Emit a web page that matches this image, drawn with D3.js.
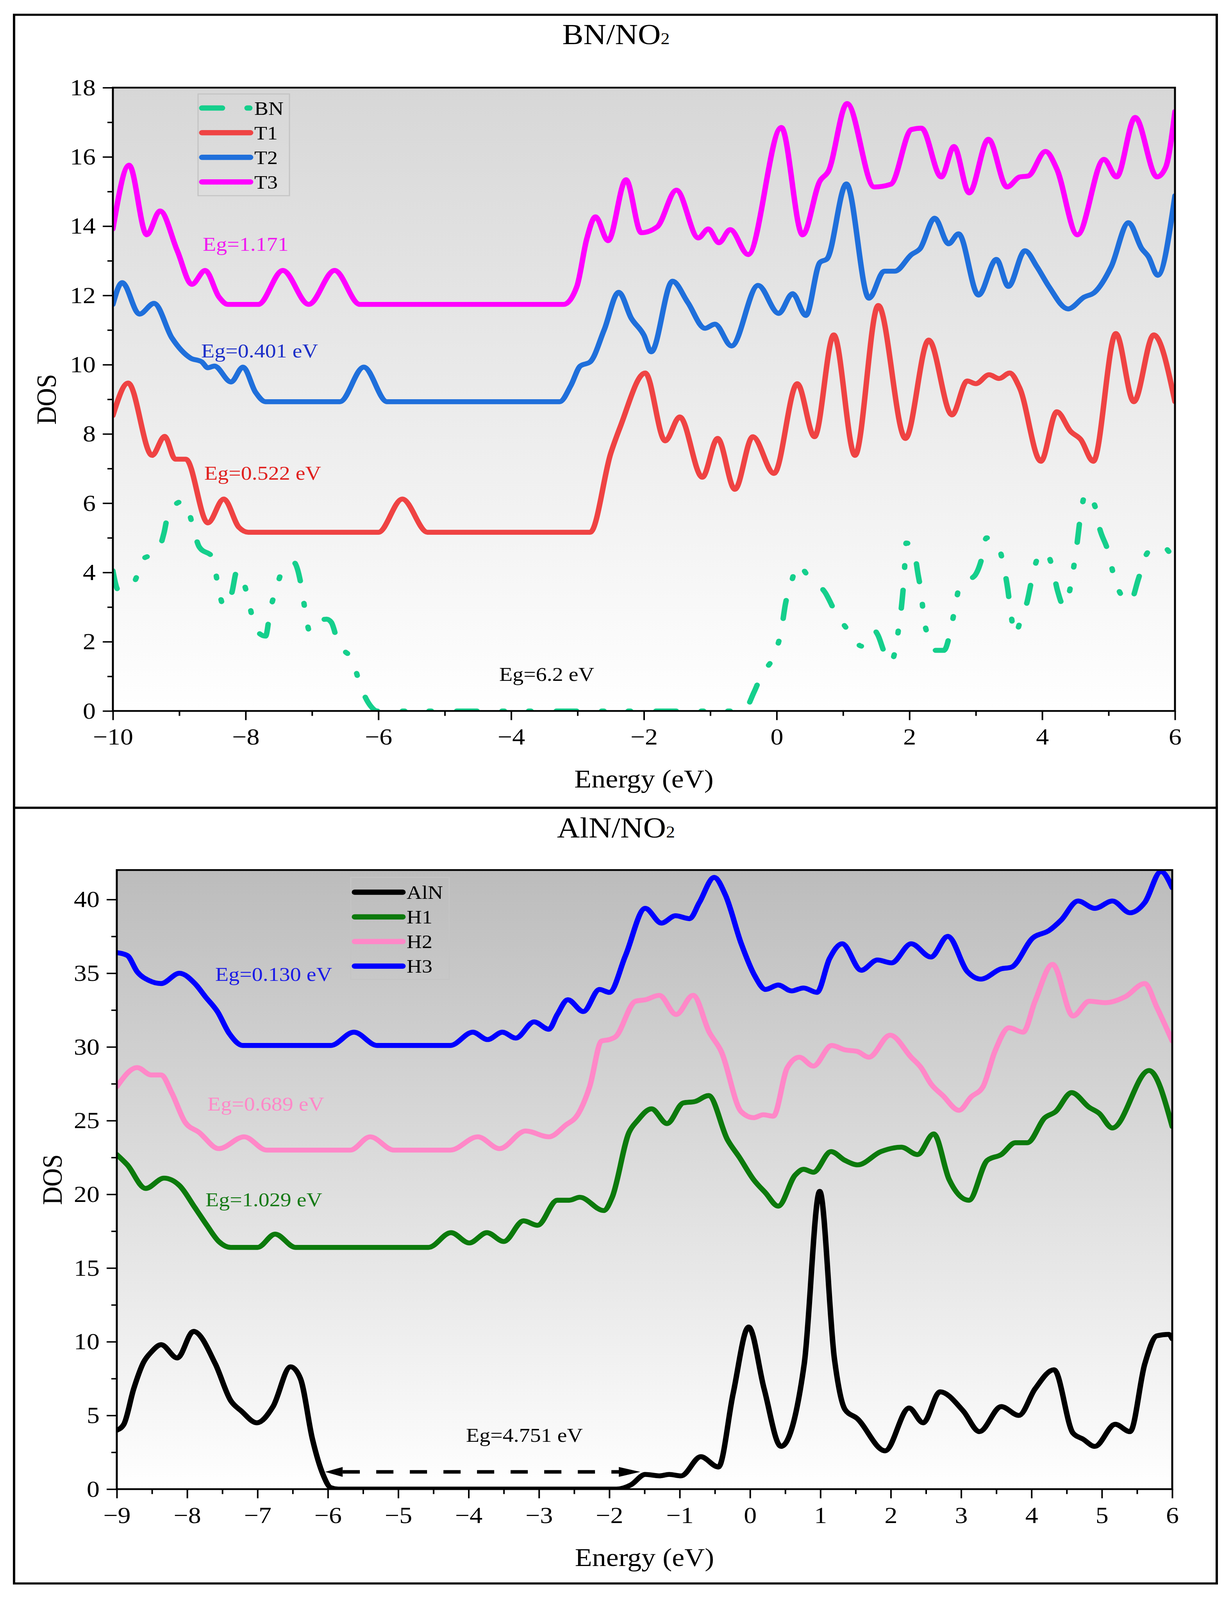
<!DOCTYPE html>
<html>
<head>
<meta charset="utf-8">
<script src="https://cdn.jsdelivr.net/npm/d3@7"></script>
<style>
  html, body { margin: 0; padding: 0; background: #fff; overflow: hidden; }
  svg { display: block; }
  text { font-family: "Liberation Serif", "Times New Roman", serif; }
</style>
</head>
<body>
<svg id="chart"></svg>
<script>
// ---- top panel: BN/NO2 (energy eV, DOS) ----
const bnDOS = [[-10,4.05],[-9.92,3.5],[-9.8,3.5],[-9.67,3.75],[-9.54,4.4],[-9.34,4.55],[-9.23,5.14],[-9.16,5.74],[-8.95,6.05],[-8.88,5.9],[-8.8,5.37],[-8.7,4.74],[-8.49,4.42],[-8.43,3.76],[-8.32,3.0],[-8.21,3.4],[-8.13,4.05],[-8.01,3.59],[-7.93,2.96],[-7.86,2.39],[-7.7,2.16],[-7.63,2.9],[-7.53,3.59],[-7.42,4.17],[-7.28,4.3],[-7.15,3.48],[-7.1,2.84],[-7.03,2.27],[-6.89,2.6],[-6.78,2.65],[-6.71,2.56],[-6.61,1.98],[-6.38,1.41],[-6.28,0.78],[-6.12,0.15],[-6.02,0],[-0.5,0],[-0.34,0.55],[-0.21,1.12],[-0.09,1.41],[-0.01,1.75],[0.07,2.33],[0.13,3.07],[0.22,3.71],[0.32,4.22],[0.5,3.82],[0.73,3.42],[0.88,2.87],[1.1,2.27],[1.28,1.87],[1.47,2.33],[1.52,2.21],[1.62,1.7],[1.71,1.39],[1.78,1.7],[1.83,2.29],[1.88,3.02],[1.92,3.88],[1.95,4.85],[2.06,4.68],[2.13,3.94],[2.18,3.36],[2.21,2.79],[2.29,2.1],[2.38,1.75],[2.52,1.75],[2.62,2.33],[2.69,3.02],[2.77,3.71],[2.97,3.88],[3.08,4.34],[3.16,5.0],[3.33,4.8],[3.42,4.17],[3.48,3.53],[3.52,2.94],[3.59,2.21],[3.69,2.73],[3.77,3.13],[3.84,3.76],[3.94,4.45],[4.05,4.59],[4.15,4.17],[4.23,3.48],[4.33,3.02],[4.42,3.53],[4.48,4.22],[4.53,4.91],[4.57,5.54],[4.66,6.29],[4.79,5.94],[4.86,5.31],[4.99,4.62],[5.09,3.82],[5.17,3.42],[5.32,3.13],[5.45,3.82],[5.55,4.45],[5.7,4.74],[5.83,4.74],[5.96,4.51],[6,4.5]];
const t1DOS = [[-10,8.53],[-9.77,9.47],[-9.41,7.38],[-9.22,7.93],[-9.06,7.27],[-8.9,7.27],[-8.57,5.43],[-8.33,6.12],[-8.1,5.3],[-7.96,5.16],[-6.0,5.16],[-5.64,6.12],[-5.26,5.16],[-2.81,5.16],[-2.5,7.44],[-2.35,8.24],[-1.98,9.76],[-1.68,7.8],[-1.46,8.49],[-1.12,6.75],[-0.89,7.87],[-0.63,6.4],[-0.36,7.92],[-0.04,6.86],[0.31,9.45],[0.57,7.92],[0.86,10.86],[1.18,7.38],[1.53,11.71],[1.94,7.87],[2.29,10.71],[2.64,8.55],[2.87,9.53],[3.0,9.45],[3.2,9.71],[3.35,9.6],[3.51,9.76],[3.66,9.33],[3.98,7.21],[4.22,8.64],[4.43,8.07],[4.58,7.84],[4.77,7.21],[5.11,10.9],[5.38,8.93],[5.68,10.86],[6,8.93]];
const t2DOS = [[-10,11.74],[-9.86,12.37],[-9.6,11.46],[-9.38,11.77],[-9.11,10.77],[-8.83,10.19],[-8.66,10.08],[-8.57,9.91],[-8.47,9.96],[-8.22,9.5],[-8.04,9.93],[-7.85,9.2],[-7.7,8.93],[-6.58,8.93],[-6.22,9.93],[-5.87,8.93],[-3.27,8.93],[-3.1,9.4],[-2.96,9.96],[-2.81,10.08],[-2.6,11.0],[-2.38,12.09],[-2.19,11.34],[-2.0,10.85],[-1.89,10.37],[-1.57,12.41],[-1.34,11.8],[-1.08,11.05],[-0.93,11.17],[-0.68,10.54],[-0.28,12.29],[0.03,11.48],[0.24,12.05],[0.44,11.42],[0.65,12.95],[0.76,13.06],[1.05,15.22],[1.39,11.92],[1.62,12.7],[1.78,12.7],[2.03,13.18],[2.16,13.35],[2.38,14.23],[2.59,13.49],[2.74,13.78],[3.04,12.01],[3.31,13.04],[3.49,12.26],[3.74,13.29],[3.92,12.83],[4.1,12.26],[4.39,11.61],[4.63,11.95],[4.79,12.09],[5.04,12.83],[5.3,14.1],[5.5,13.35],[5.6,13.12],[5.74,12.58],[6,14.88]];
const t3DOS = [[-10,13.92],[-9.755,15.76],[-9.49,13.75],[-9.29,14.44],[-9.03,13.29],[-8.81,12.32],[-8.61,12.72],[-8.4,11.95],[-8.27,11.74],[-7.81,11.74],[-7.44,12.72],[-7.05,11.74],[-6.66,12.72],[-6.28,11.74],[-3.21,11.74],[-3.01,12.26],[-2.86,13.64],[-2.73,14.27],[-2.54,13.58],[-2.27,15.34],[-2.04,13.81],[-1.8,13.98],[-1.51,15.04],[-1.18,13.66],[-1.03,13.92],[-0.87,13.52],[-0.7,13.9],[-0.43,13.18],[0.07,16.85],[0.39,13.75],[0.65,15.3],[0.78,15.59],[1.06,17.54],[1.47,15.13],[1.72,15.21],[2.03,16.79],[2.18,16.83],[2.48,15.42],[2.67,16.3],[2.9,14.96],[3.19,16.51],[3.47,15.13],[3.66,15.42],[3.79,15.45],[4.05,16.16],[4.22,15.65],[4.53,13.75],[4.93,15.93],[5.12,15.42],[5.4,17.14],[5.73,15.42],[5.86,15.7],[6,17.31]];

// ---- bottom panel: AlN/NO2 ----
const alnDOS = [[-9,4.0],[-8.9,4.4],[-8.76,6.8],[-8.62,8.6],[-8.51,9.3],[-8.37,9.8],[-8.14,8.9],[-7.91,10.7],[-7.6,8.5],[-7.38,6.0],[-7.23,5.3],[-7.01,4.5],[-6.78,5.6],[-6.53,8.3],[-6.39,7.5],[-6.22,3.4],[-6.07,1.0],[-5.96,0.1],[-5.85,0],[-1.9,0],[-1.69,0.3],[-1.49,1.0],[-1.29,0.9],[-1.15,1.0],[-0.98,0.9],[-0.7,2.2],[-0.45,1.5],[-0.24,6.5],[-0.02,11.0],[0.2,6.8],[0.44,2.9],[0.77,8.5],[0.99,20.2],[1.2,8.8],[1.35,5.4],[1.52,4.8],[1.92,2.6],[2.26,5.5],[2.46,4.5],[2.7,6.6],[3.03,5.3],[3.26,3.9],[3.57,5.6],[3.82,5.0],[4.05,6.8],[4.32,8.1],[4.59,3.8],[4.73,3.4],[4.9,2.9],[5.19,4.4],[5.4,3.9],[5.61,8.5],[5.78,10.4],[5.95,10.5],[6,10.2]];
const h1DOS = [[-9,22.7],[-8.85,22.0],[-8.59,20.4],[-8.33,21.1],[-8.11,20.6],[-7.89,19.1],[-7.72,17.9],[-7.55,16.8],[-7.38,16.4],[-7.0,16.4],[-6.75,17.3],[-6.46,16.4],[-4.57,16.4],[-4.25,17.4],[-3.99,16.7],[-3.74,17.4],[-3.5,16.8],[-3.22,18.2],[-3.02,17.9],[-2.74,19.6],[-2.57,19.6],[-2.42,19.8],[-2.08,18.9],[-1.96,19.8],[-1.72,24.2],[-1.6,25.0],[-1.4,25.8],[-1.18,24.8],[-0.95,26.2],[-0.78,26.3],[-0.59,26.7],[-0.32,23.7],[-0.15,22.5],[0.05,21.0],[0.22,20.1],[0.4,19.2],[0.64,21.3],[0.76,21.7],[0.9,21.5],[1.15,22.9],[1.35,22.3],[1.53,22.0],[1.86,22.9],[2.15,23.2],[2.38,22.7],[2.61,24.1],[2.83,21.0],[3.11,19.6],[3.37,22.3],[3.57,22.7],[3.77,23.5],[3.94,23.5],[4.19,25.2],[4.34,25.6],[4.57,26.9],[4.82,25.9],[4.96,25.5],[5.15,24.5],[5.67,28.4],[6,24.6]];
const h2DOS = [[-9,27.3],[-8.71,28.6],[-8.51,28.1],[-8.37,28.1],[-8.22,26.9],[-8.03,24.9],[-7.83,24.2],[-7.55,23.1],[-7.19,23.9],[-6.87,23.0],[-5.68,23.0],[-5.4,23.9],[-5.06,23.0],[-4.26,23.0],[-3.87,23.9],[-3.56,23.1],[-3.19,24.3],[-2.86,23.9],[-2.62,24.7],[-2.45,25.4],[-2.28,27.3],[-2.11,30.4],[-2.0,30.5],[-1.91,30.7],[-1.63,33.1],[-1.49,33.2],[-1.29,33.5],[-1.05,32.2],[-0.81,33.5],[-0.58,31.0],[-0.41,29.7],[-0.125,25.6],[0.05,25.2],[0.19,25.4],[0.33,25.3],[0.53,28.6],[0.7,29.3],[0.9,28.7],[1.16,30.1],[1.35,29.8],[1.52,29.7],[1.69,29.3],[1.99,30.8],[2.29,29.3],[2.43,28.6],[2.57,27.5],[2.74,26.7],[2.97,25.7],[3.14,26.6],[3.31,27.3],[3.48,29.7],[3.68,31.3],[3.88,31.0],[4.05,33.1],[4.3,35.6],[4.59,32.1],[4.82,33.1],[5.05,33.0],[5.33,33.4],[5.61,34.3],[5.78,32.7],[6,30.4]];
const h3DOS = [[-9,36.4],[-8.85,36.2],[-8.71,35.1],[-8.54,34.5],[-8.37,34.3],[-8.11,35.0],[-7.89,34.3],[-7.74,33.4],[-7.57,32.4],[-7.4,30.9],[-7.21,30.1],[-5.96,30.1],[-5.63,31.0],[-5.3,30.1],[-4.26,30.1],[-3.94,31.0],[-3.73,30.5],[-3.52,31.0],[-3.33,30.6],[-3.07,31.7],[-2.86,31.2],[-2.74,32.2],[-2.59,33.2],[-2.37,32.4],[-2.14,33.9],[-2.0,33.7],[-1.77,36.2],[-1.49,39.4],[-1.26,38.4],[-1.06,38.9],[-0.86,38.7],[-0.72,39.8],[-0.51,41.5],[-0.35,40.3],[-0.125,37.0],[0.07,34.8],[0.22,33.9],[0.4,34.2],[0.59,33.8],[0.76,34.0],[0.95,33.7],[1.13,36.0],[1.31,37.0],[1.58,35.2],[1.81,35.9],[2.01,35.7],[2.29,37.0],[2.57,36.1],[2.81,37.5],[3.09,35.1],[3.28,34.6],[3.57,35.3],[3.71,35.4],[4.02,37.4],[4.25,37.9],[4.42,38.6],[4.66,39.9],[4.9,39.4],[5.15,39.9],[5.4,39.1],[5.61,39.8],[5.84,41.9],[6,40.8]];

// gap arrow for AlN (energy from, energy to, DOS level)
const alnGapArrow = [-6.04, -1.56, 1.17];

// tick values
const topXTicks = d3.range(-10, 6.1, 2);
const topXMinor = d3.range(-9, 6, 2);
const topYTicks = d3.range(0, 18.1, 2);
const topYMinor = d3.range(1, 18, 2);
const botXTicks = d3.range(-9, 6.1, 1);
const botXMinor = d3.range(-8.5, 6, 1);
const botYTicks = d3.range(0, 40.1, 5);
const botYMinor = d3.range(2.5, 42, 5);

// page is laid out on a 3154 x 4546 canvas, fitted to whatever the window gives
const W = 3154, H = 4546;
const svg = d3.select('#chart')
  .attr('viewBox', `0 0 ${W} ${H}`)
  .attr('preserveAspectRatio', 'none')
  .attr('width', window.innerWidth || W)
  .attr('height', window.innerHeight || H);
svg.append('rect').attr('width', W).attr('height', H).attr('fill', '#fff');

const defs = svg.append('defs');
function addGradient(id, top) {
  const g = defs.append('linearGradient').attr('id', id)
    .attr('x1', 0).attr('y1', 0).attr('x2', 0).attr('y2', 1);
  g.append('stop').attr('offset', '0%').attr('stop-color', top);
  g.append('stop').attr('offset', '100%').attr('stop-color', '#ffffff');
}
addGradient('bgTop', '#d7d7d7');
addGradient('bgBot', '#bcbcbc');

function drawPanel(p) {
  const g = svg.append('g');
  // outer box
  g.append('rect').attr('x', p.box[0]).attr('y', p.box[1])
    .attr('width', p.box[2] - p.box[0]).attr('height', p.box[3] - p.box[1])
    .attr('fill', 'none').attr('stroke', '#000').attr('stroke-width', 6);

  const x = d3.scaleLinear().domain(p.xDomain).range([p.left, p.right]);
  const y = d3.scaleLinear().domain(p.yDomain).range([p.bottom, p.top]);

  g.append('rect').attr('x', p.left).attr('y', p.top)
    .attr('width', p.right - p.left).attr('height', p.bottom - p.top)
    .attr('fill', `url(#${p.grad})`);

  // title
  const title = g.append('text').attr('x', 1577).attr('y', p.titleY)
    .attr('text-anchor', 'middle').attr('font-size', 81);
  title.append('tspan').text(p.title);
  title.append('tspan').attr('font-size', 46).text('2');

  // axes
  g.append('g').attr('transform', `translate(0,${p.bottom})`)
    .call(d3.axisBottom(x).tickValues(p.xTicks).tickSize(26).tickPadding(23));
  g.append('g').attr('transform', `translate(0,${p.bottom})`)
    .call(d3.axisBottom(x).tickValues(p.xMinor).tickSize(14).tickFormat(''));
  g.append('g').attr('transform', `translate(${p.left},0)`)
    .call(d3.axisLeft(y).tickValues(p.yTicks).tickSize(26).tickPadding(18));
  g.append('g').attr('transform', `translate(${p.left},0)`)
    .call(d3.axisLeft(y).tickValues(p.yMinor).tickSize(14).tickFormat(''));
  g.selectAll('.domain').remove();
  g.selectAll('.tick line').attr('stroke', '#000').attr('stroke-width', 4);
  g.selectAll('.tick text').attr('font-size', 66).attr('fill', '#000')
    .attr('font-family', '"Liberation Serif", serif');

  g.append('text').attr('x', (p.left + p.right) / 2).attr('y', p.xLabelY)
    .attr('text-anchor', 'middle').attr('font-size', 72).text('Energy (eV)');
  g.append('text').attr('transform', `translate(${p.yLabelX},${(p.top + p.bottom) / 2}) rotate(-90)`)
    .attr('text-anchor', 'middle').attr('font-size', 72).text('DOS');

  // curves
  const clipId = 'clip' + p.grad;
  defs.append('clipPath').attr('id', clipId).append('rect')
    .attr('x', p.left).attr('y', p.top - 2)
    .attr('width', p.right - p.left).attr('height', p.bottom - p.top + 2);
  const line = d3.line().x(d => x(d[0])).y(d => y(d[1])).curve(d3.curveMonotoneX);
  const lines = g.append('g').attr('clip-path', `url(#${clipId})`);
  p.series.forEach(s => {
    lines.append('path').datum(s.data)
      .attr('d', line)
      .attr('fill', 'none')
      .attr('stroke', s.color)
      .attr('stroke-width', 14)
      .attr('stroke-linejoin', 'round')
      .attr('stroke-linecap', 'round')
      .attr('stroke-dasharray', s.dash || null);
  });

  // frame
  g.append('rect').attr('x', p.left).attr('y', p.top)
    .attr('width', p.right - p.left).attr('height', p.bottom - p.top)
    .attr('fill', 'none').attr('stroke', '#000').attr('stroke-width', 5);

  // legend
  const lg = p.legend;
  g.append('rect').attr('x', lg.x0).attr('y', lg.y0)
    .attr('width', lg.x1 - lg.x0).attr('height', lg.y1 - lg.y0)
    .attr('fill', 'none').attr('stroke', '#c4c4c4').attr('stroke-width', 3);
  p.series.forEach((s, i) => {
    const yy = lg.first + i * 70;
    g.append('line').attr('x1', lg.x0 + 10).attr('x2', lg.lineEnd)
      .attr('y1', yy).attr('y2', yy)
      .attr('stroke', s.color).attr('stroke-width', 15)
      .attr('stroke-linecap', 'round')
      .attr('stroke-dasharray', s.dash || null);
    g.append('text').attr('x', lg.lineEnd + 10).attr('y', yy + 19)
      .attr('font-size', 54).text(s.name);
  });

  // gap labels
  p.labels.forEach(l => {
    g.append('text').attr('x', l.x).attr('y', l.y)
      .attr('font-size', 56).attr('fill', l.color).text(l.text);
  });
  return { g, x, y };
}

drawPanel({
  box: [36, 42, 3115, 2295],
  left: 289, right: 3008, top: 249, bottom: 2020,
  xDomain: [-10, 6], yDomain: [0, 18],
  xTicks: topXTicks, xMinor: topXMinor, yTicks: topYTicks, yMinor: topYMinor,
  grad: 'bgTop', title: 'BN/NO', titleY: 125, xLabelY: 2238, yLabelX: 143,
  series: [
    { name: 'BN', data: bnDOS, color: '#15cf8c', dash: '52,64,6,62,6,65' },
    { name: 'T1', data: t1DOS, color: '#ef4343' },
    { name: 'T2', data: t2DOS, color: '#1f6fdb' },
    { name: 'T3', data: t3DOS, color: '#ff00ff' }
  ],
  legend: { x0: 507, y0: 267, x1: 741, y1: 556, first: 307, lineEnd: 641 },
  labels: [
    { text: 'Eg=1.171', x: 519, y: 713, color: '#f01af0' },
    { text: 'Eg=0.401 eV', x: 515, y: 1016, color: '#1c2fc8' },
    { text: 'Eg=0.522 eV', x: 523, y: 1363, color: '#e0201e' },
    { text: 'Eg=6.2 eV', x: 1278, y: 1934, color: '#000' }
  ]
});

const bot = drawPanel({
  box: [36, 2295, 3115, 4499],
  left: 299, right: 3001, top: 2472, bottom: 4231,
  xDomain: [-9, 6], yDomain: [0, 42],
  xTicks: botXTicks, xMinor: botXMinor, yTicks: botYTicks, yMinor: botYMinor,
  grad: 'bgBot', title: 'AlN/NO', titleY: 2379, xLabelY: 4449, yLabelX: 158,
  series: [
    { name: 'AlN', data: alnDOS, color: '#000000' },
    { name: 'H1', data: h1DOS, color: '#0c7a0c' },
    { name: 'H2', data: h2DOS, color: '#ff88c8' },
    { name: 'H3', data: h3DOS, color: '#0000ff' }
  ],
  legend: { x0: 898, y0: 2493, x1: 1150, y1: 2783, first: 2535, lineEnd: 1031 },
  labels: [
    { text: 'Eg=0.130 eV', x: 551, y: 2787, color: '#1a1ae6' },
    { text: 'Eg=0.689 eV', x: 531, y: 3155, color: '#ff88c8' },
    { text: 'Eg=1.029 eV', x: 526, y: 3427, color: '#167a16' },
    { text: 'Eg=4.751 eV', x: 1193, y: 4097, color: '#000' }
  ]
});

// dashed double arrow marking the AlN gap
{
  const [e0, e1, lvl] = alnGapArrow;
  const xa = bot.x(e0), xb = bot.x(e1), ya = bot.y(lvl);
  bot.g.append('line').attr('x1', xa + 45).attr('x2', xb - 50)
    .attr('y1', ya).attr('y2', ya)
    .attr('stroke', '#000').attr('stroke-width', 10)
    .attr('stroke-dasharray', '44,42');
  bot.g.append('path')
    .attr('d', `M${xa},${ya} L${xa + 45},${ya - 14} L${xa + 45},${ya + 14} Z`)
    .attr('fill', '#000');
  bot.g.append('path')
    .attr('d', `M${xb},${ya} L${xb - 55},${ya - 14} L${xb - 55},${ya + 14} Z`)
    .attr('fill', '#000');
}
</script>
</body>
</html>
